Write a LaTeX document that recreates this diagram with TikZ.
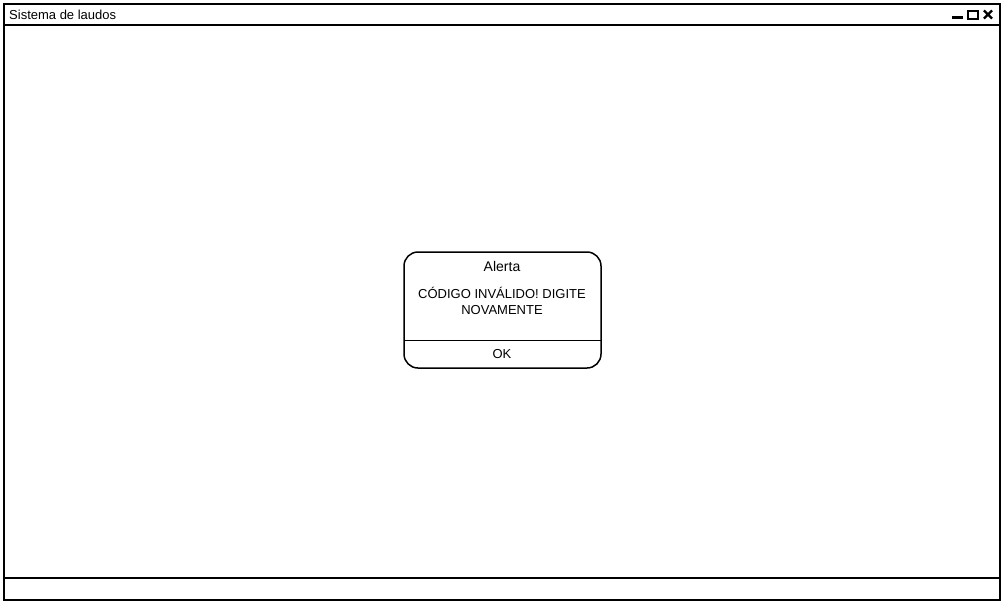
\documentclass[tikz,border=0pt]{standalone}
\usepackage{fontspec}
\setmainfont{Liberation Sans}
\usetikzlibrary{shapes.misc}
\begin{document}
\begin{tikzpicture}[x=1pt, y=-1pt,
        frame/.style={draw, line width=2pt, inner sep=0pt},
        label text/.style={font=\fontsize{13}{15}\selectfont, inner sep=0pt}]
        \useasboundingbox (0,0) rectangle (1003,603);
        % Window
        \node (win) at (502, 302) [frame, minimum width=996pt, minimum height=596pt] {};
        \node (titlebar) at (502, 14.5) [frame, minimum width=996pt, minimum height=21pt] {};
        \node (statusbar) at (502, 589) [frame, minimum width=996pt, minimum height=22pt] {};
        \node (title) at (9, 15) [label text, anchor=west] {Sistema de laudos};
        % Window buttons
        \node (minbtn) at (957.5, 17.5) [fill, inner sep=0pt, minimum width=11pt, minimum height=3.5pt] {};
        \node (maxbtn) at (973, 14.5) [draw, line width=2pt, inner sep=0pt, minimum width=10pt, minimum height=8pt] {};
        \node (closebtn) at (988, 14.5) [cross out, draw, line width=2.2pt, inner sep=0pt, minimum size=6pt] {};
        % Alert
        \node (alert) at (502.5, 310) [draw, line width=1.5pt, rounded corners=14pt, minimum width=197pt, minimum height=116pt] {};
        \coordinate (sepl) at (404, 340);
        \coordinate (sepr) at (601, 340);
        \draw[line width=1pt] (sepl) -- (sepr);
        \node (head) at (502, 266) [label text, font=\fontsize{14}{16}\selectfont] {Alerta};
        \node (msg) at (502, 301) [label text, align=center] {CÓDIGO INVÁLIDO! DIGITE\\[1pt]NOVAMENTE};
        \node (ok) at (502, 354) [label text] {OK};
    \end{tikzpicture}
\end{document}
